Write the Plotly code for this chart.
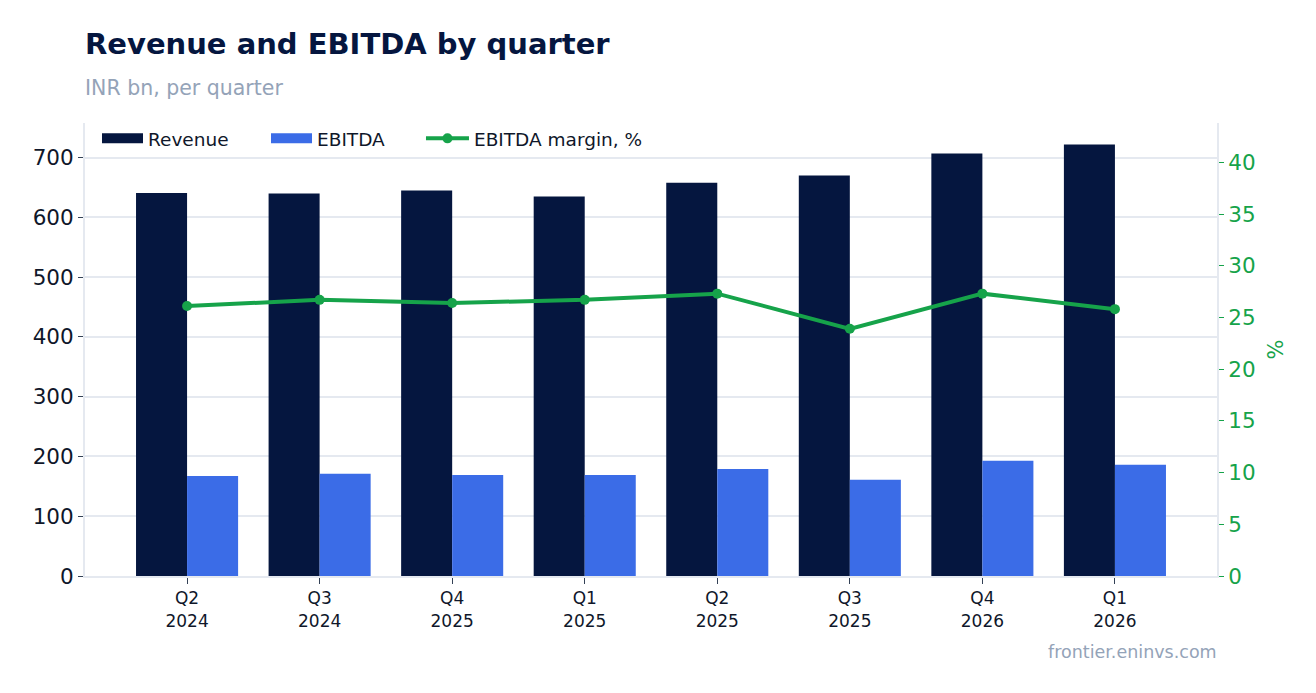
import plotly.graph_objects as go

quarters = ["Q2<br>2024", "Q3<br>2024", "Q4<br>2025", "Q1<br>2025",
            "Q2<br>2025", "Q3<br>2025", "Q4<br>2026", "Q1<br>2026"]
revenue = [641, 640, 645, 635, 658, 670, 707, 722]
ebitda = [167.5, 171, 169, 169, 179, 161, 193, 186]
margin = [26.1, 26.7, 26.4, 26.7, 27.3, 23.9, 27.3, 25.8]

NAVY = "#05163f"
BLUE = "#3b6ce7"
GREEN = "#16a34a"
GRID = "#e5e9f0"

fig = go.Figure()
fig.add_trace(go.Bar(x=quarters, y=revenue, name="Revenue", marker_color=NAVY,
                     marker_line_width=0, showlegend=False))
fig.add_trace(go.Bar(x=quarters, y=ebitda, name="EBITDA", marker_color=BLUE,
                     marker_line_width=0, showlegend=False))
# wide rectangular legend swatches, one legend per entry so spacing can be set
fig.add_trace(go.Scatter(x=[None], y=[None], name="Revenue", mode="lines",
                         line=dict(color=NAVY, width=14), legend="legend"))
fig.add_trace(go.Scatter(x=[None], y=[None], name="EBITDA", mode="lines",
                         line=dict(color=BLUE, width=14), legend="legend2"))
fig.add_trace(go.Scatter(x=quarters, y=margin, name="EBITDA margin, %", yaxis="y2",
                         mode="lines+markers", legend="legend3",
                         line=dict(color=GREEN, width=4),
                         marker=dict(color=GREEN, size=10)))

leg = dict(orientation="h", y=1.007, xanchor="left", yanchor="top",
           bgcolor="rgba(255,255,255,0)", font=dict(size=18.5, color="#0f172a"))

fig.update_layout(
    width=1316, height=693,
    margin=dict(l=77, r=107, t=115, b=125),
    paper_bgcolor="white", plot_bgcolor="white",
    font=dict(family="DejaVu Sans", color="#1e293b"),
    barmode="group", bargap=0.23, bargroupgap=0,
    title=dict(text="<b>Revenue and EBITDA by quarter</b>", x=77 / 1316, xanchor="left",
               y=0.948, yanchor="middle", font=dict(size=29, color=NAVY)),
    legend=dict(leg, x=0.0106, itemwidth=41),
    legend2=dict(leg, x=0.1599, itemwidth=41),
    legend3=dict(leg, x=0.2968, itemwidth=43),
    xaxis=dict(range=[-0.77, 7.77], showgrid=False, showline=True, linecolor=GRID, linewidth=2,
               ticks="outside", tickcolor="#334155", ticklen=6,
               tickfont=dict(size=17, color="#0f172a")),
    yaxis=dict(range=[0, 758], dtick=100, showgrid=True, gridcolor=GRID, gridwidth=2,
               showline=True, linecolor=GRID, linewidth=2, zeroline=False,
               ticks="outside", tickcolor="#334155", ticklen=5,
               tickfont=dict(size=21.5, color="#0f172a")),
    yaxis2=dict(range=[0, 43.8], dtick=5, overlaying="y", side="right",
                showgrid=False, showline=True, linecolor=GRID, linewidth=2, zeroline=False,
                ticks="outside", tickcolor=GREEN, ticklen=5,
                tickfont=dict(size=21.5, color=GREEN),
                title=dict(text="%", font=dict(size=21, color=GREEN), standoff=14)),
    annotations=[
        dict(text="INR bn, per quarter", xref="paper", yref="paper", x=0, y=1.0,
             xanchor="left", yanchor="middle", xshift=-2, yshift=35, showarrow=False,
             font=dict(size=20.5, color="#94a3b8")),
        dict(text="frontier.eninvs.com", xref="paper", yref="paper", x=1, y=0,
             xanchor="right", yanchor="middle", xshift=2, yshift=-76, showarrow=False,
             font=dict(size=17.5, color="#94a3b8")),
    ],
)

fig.write_html("out.html")
